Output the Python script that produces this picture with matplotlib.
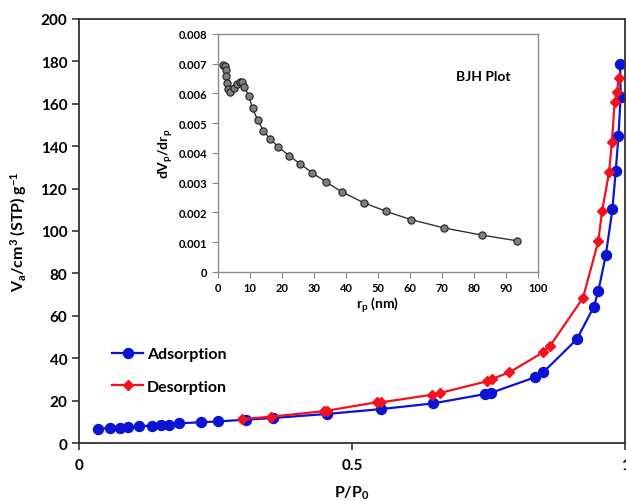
## N2 adsorption-desorption isotherm with BJH inset
import numpy as np
import matplotlib
matplotlib.use('Agg')
import matplotlib.pyplot as plt

plt.rcParams['font.family'] = ['Lato', 'DejaVu Sans']
plt.rcParams['font.weight'] = 'bold'
plt.rcParams['axes.labelweight'] = 'bold'
plt.rcParams['mathtext.fontset'] = 'custom'
plt.rcParams['mathtext.rm'] = 'Lato:bold'
plt.rcParams['mathtext.bf'] = 'Lato:bold'
plt.rcParams['mathtext.default'] = 'bf'

# Adsorption branch
p_ads = [0.034, 0.057, 0.075, 0.090, 0.109, 0.133, 0.150, 0.165, 0.184, 0.224,
         0.255, 0.305, 0.355, 0.454, 0.553, 0.649, 0.744, 0.754, 0.835, 0.850,
         0.912, 0.943, 0.951, 0.965, 0.977, 0.983, 0.988, 0.992, 0.991]
v_ads = [6.6, 7.1, 7.2, 7.7, 8.0, 8.1, 8.5, 8.6, 9.3, 9.8,
         10.2, 11.0, 11.8, 13.7, 16.0, 18.7, 23.1, 23.6, 31.0, 33.3,
         49.0, 64.3, 71.5, 88.8, 110.4, 128.3, 144.7, 163.0, 178.8]

# Desorption branch
p_des = [0.299, 0.351, 0.448, 0.455, 0.545, 0.554, 0.647, 0.661, 0.747, 0.756,
         0.788, 0.850, 0.863, 0.923, 0.951, 0.958, 0.971, 0.976, 0.981, 0.985, 0.989]
v_des = [11.3, 12.4, 15.0, 15.3, 19.2, 19.2, 22.8, 23.6, 29.1, 30.2,
         33.3, 42.8, 45.9, 68.4, 95.1, 109.3, 128.0, 142.1, 160.7, 165.7, 172.0]

# BJH pore size distribution
r_p = [1.45, 2.2, 2.4, 2.5, 2.7, 3.0, 3.75, 5.0, 5.8, 6.9, 7.5, 8.2, 9.6, 10.8,
       12.4, 14.2, 16.3, 18.9, 22.2, 25.6, 29.5, 33.8, 38.8, 45.5, 52.5, 60.3,
       70.7, 82.4, 93.4]
dv_dr = [0.00697, 0.00691, 0.00680, 0.00660, 0.00634, 0.00615, 0.00604, 0.00617,
         0.00632, 0.00638, 0.00638, 0.00623, 0.00592, 0.00550, 0.00511, 0.00475,
         0.00447, 0.00420, 0.00391, 0.00364, 0.00333, 0.00302, 0.00269, 0.00233,
         0.00204, 0.00176, 0.00148, 0.00124, 0.00105]

fig = plt.figure(figsize=(6.26, 5.02), dpi=100)
ax = fig.add_axes([0.1262, 0.1155, 0.8722, 0.8447])

ax.plot(p_ads, v_ads, color='#0A14D2', lw=1.6, marker='o', ms=7.2,
        label='Adsorption')
ax.plot(p_des, v_des, color='#F5101E', lw=1.6, marker='D', ms=5,
        label='Desorption')

ax.set_xlim(0, 1)
ax.set_ylim(0, 200)
ax.set_xticks([0, 0.5, 1])
ax.set_xticklabels(['0', '0.5', '1'])
ax.set_yticks(np.arange(0, 201, 20))
ax.tick_params(direction='out', labelsize=11, length=5, width=1.2, color='#333333')
ax.tick_params(axis='x', pad=6)
for s in ax.spines.values():
    s.set_color('#333333')
    s.set_linewidth(1.3)
ax.set_xlabel('P/P$_0$', fontsize=11.5, labelpad=8)
ax.set_ylabel('V$_a$/cm$^3$ (STP) g$^{-1}$', fontsize=11.5, labelpad=8)

ax.legend(loc='upper left', bbox_to_anchor=(0.035, 0.26), frameon=False,
          fontsize=11.5, handlelength=1.9, handletextpad=0.25, labelspacing=1.15)

# inset
ins = fig.add_axes([0.3482, 0.4562, 0.5112, 0.4741])
ins.plot(r_p, dv_dr, color='#333333', lw=1, marker='o', ms=5.2,
         mfc='#7F7F7F', mec='#222222', mew=0.8)
ins.set_xlim(0, 100)
ins.set_ylim(0, 0.008)
ins.set_xticks(np.arange(0, 101, 10))
ins.set_yticks(np.arange(0, 0.0081, 0.001))
ins.set_yticklabels(['0'] + ['%.3f' % v for v in np.arange(0.001, 0.0081, 0.001)])
ins.tick_params(direction='out', labelsize=8, length=4, color='#888888')
for s in ins.spines.values():
    s.set_color('#8C8C8C')
    s.set_linewidth(1)
ins.set_xlabel('r$_p$ (nm)', fontsize=10, labelpad=1)
ins.set_ylabel('dV$_p$/dr$_p$', fontsize=10, labelpad=3)
ins.text(83, 0.0066, 'BJH Plot', fontsize=10, ha='center', va='center',
         fontweight='bold')

plt.savefig('out.png', dpi=100)
